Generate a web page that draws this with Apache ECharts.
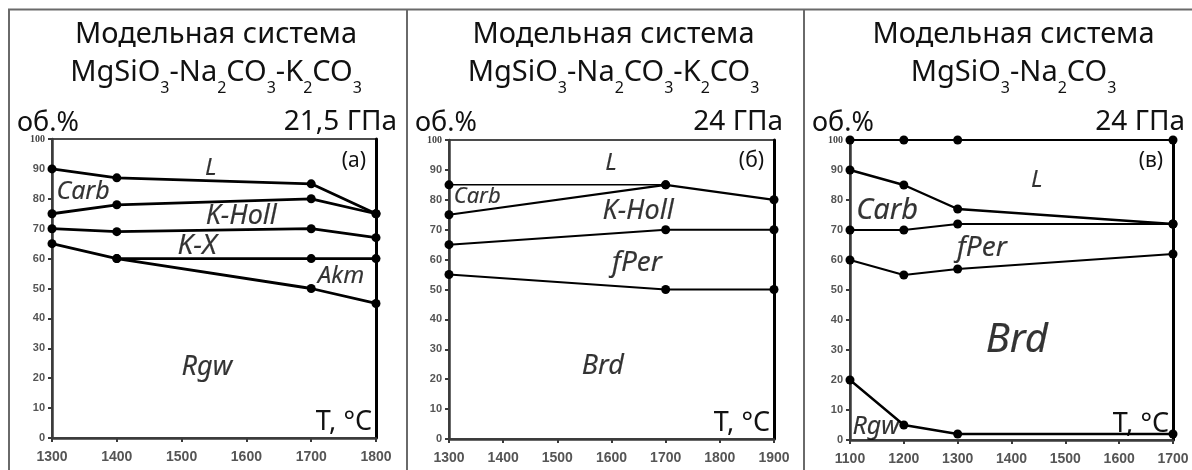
<!DOCTYPE html>
<html>
<head>
<meta charset="utf-8">
<script src="https://cdn.jsdelivr.net/npm/echarts@6/dist/echarts.min.js"></script>
<style>
html,body{margin:0;padding:0;background:#fff;}
#c{width:1192px;height:470px;}
</style>
</head>
<body>
<div id="c"></div>
<script>
// ---------- DATA ----------
// Panel (а): MgSiO3-Na2CO3-K2CO3, 21,5 GPa
const tempA = [1300, 1400, 1700, 1800];
const lineA_L_Carb   = [90, 87, 85, 75];
const lineA_Carb_KH  = [75, 78, 80, 75];
const lineA_KH_KX    = [70, 69, 70, 67];
const lineA_KX_Akm   = [65, 60, 60, 60];
const tempA_akm      = [1400, 1700, 1800];
const lineA_Akm_Rgw  = [60, 50, 45];

// Panel (б): MgSiO3-Na2CO3-K2CO3, 24 GPa
const tempB = [1300, 1700, 1900];
const tempB_flat     = [1300, 1700];
const lineB_L_Carb   = [85, 85];
const lineB_Carb_KH  = [75, 85, 80];
const lineB_KH_fPer  = [65, 70, 70];
const lineB_fPer_Brd = [55, 50, 50];

// Panel (в): MgSiO3-Na2CO3, 24 GPa
const tempC = [1100, 1200, 1300, 1700];
const lineC_top      = [100, 100, 100, 100];
const lineC_L_Carb   = [90, 85, 77, 72];
const lineC_Carb_fPer= [70, 70, 72, 72];
const lineC_fPer_Brd = [60, 55, 57, 62];
const lineC_Brd_Rgw  = [20, 5, 2, 2];

// axis ranges / ticks
const xRangeA = [1300, 1800];
const xRangeB = [1300, 1900];
const xRangeC = [1100, 1700];
const yRange = [0, 100];

// phase-field names with anchor (T, vol.%)
const fieldsA = [['L',1545,90.3],['Carb',1348,82.3],['K-Holl',1592,74],['K-X',1524,64.2],['Akm',1746,54.2],['Rgw',1539,23.7]];
const fieldsB = [['L',1599,92.3],['Carb',1352,81],['K-Holl',1649,76],['fPer',1647,58.9],['Brd',1584,24.4]];
const fieldsC = [['L',1447,86.7],['Carb',1169,76.3],['fPer',1345,64],['Brd',1410,33],['Rgw',1148,4.3]];

// ---------- LAYOUT / STYLE ----------
const FONT = '"Noto Sans", "DejaVu Sans", sans-serif';
const grids = [
  {left: 52,  top: 139, width: 324, height: 299},
  {left: 449, top: 140, width: 325, height: 299},
  {left: 850, top: 140, width: 323, height: 300}
];
const fieldSize = [
  {L:24,'Carb':25,'K-Holl':27,'K-X':28,'Akm':24,'Rgw':27},
  {L:24,'Carb':22,'K-Holl':27,'fPer':28,'Brd':27},
  {L:24,'Carb':29,'fPer':28,'Brd':40,'Rgw':25}
];
const pressRightOffset = [21, 9, 12];
const ylabLeftOffset = [35, 34, 38];

const zip = (xs, ys) => xs.map((x, i) => [x, ys[i]]);

function lineSeries(idx, xs, ys, w, sym) {
  return {
    type: 'line', xAxisIndex: idx, yAxisIndex: idx * 2,
    data: zip(xs, ys),
    symbol: 'circle', symbolSize: sym === undefined ? 9 : sym,
    showSymbol: true,
    lineStyle: {color: '#000', width: w},
    itemStyle: {color: '#000'},
    silent: true, animation: false, z: 5
  };
}
function fieldSeries(idx, arr) {
  return {
    type: 'scatter', xAxisIndex: idx, yAxisIndex: idx * 2,
    symbolSize: 0, silent: true, animation: false, z: 6,
    data: arr.map(f => ({name: f[0], value: [f[1], f[2]], label: {fontSize: fieldSize[idx][f[0]]}})),
    label: {
      show: true, position: 'inside',
      formatter: p => p.name,
      fontFamily: FONT, fontStyle: 'italic', color: '#000',
      textBorderColor: '#000', textBorderWidth: 0.15,
      fontSize: 24
    }
  };
}

const xAxes = [xRangeA, xRangeB, xRangeC].map((r, i) => ({
  type: 'value', gridIndex: i, min: r[0], max: r[1], interval: 100,
  axisLine: {show: true, onZero: false, lineStyle: {color: '#3a3a3a', width: 2.5}},
  axisTick: {show: true, length: 4, lineStyle: {color: '#3a3a3a', width: 2}},
  axisLabel: {fontSize: 14, fontWeight: 'bold', color: '#555', margin: 12,
    fontFamily: '"Liberation Sans", sans-serif', formatter: v => String(v)},
  splitLine: {show: false}
}));
const yAxes = [];
for (let i = 0; i < 3; i++) {
  yAxes.push({
    type: 'value', gridIndex: i, min: yRange[0], max: yRange[1], interval: 10,
    axisLine: {show: true, onZero: false, lineStyle: {color: '#3a3a3a', width: 2.5}},
    axisTick: {show: true, length: 4, lineStyle: {color: '#3a3a3a', width: 2}},
    axisLabel: {
      fontSize: 11, fontWeight: 'bold', color: '#555', margin: 7,
      fontFamily: '"Liberation Sans", sans-serif',
      formatter: v => v === 100 ? '{s|100}' : String(v),
      rich: {s: {fontSize: 10, fontFamily: '"Liberation Serif", serif', fontWeight: 'bold', color: '#444'}}
    },
    splitLine: {show: false}
  });
  yAxes.push({
    type: 'value', gridIndex: i, min: yRange[0], max: yRange[1], position: 'right',
    axisLine: {show: true, onZero: false, lineStyle: {color: '#000', width: 3}},
    axisTick: {show: false}, axisLabel: {show: false}, splitLine: {show: false}
  });
}

const series = [
  lineSeries(0, tempA, lineA_L_Carb, 2.8),
  lineSeries(0, tempA, lineA_Carb_KH, 2.8),
  lineSeries(0, tempA, lineA_KH_KX, 2.8),
  lineSeries(0, tempA, lineA_KX_Akm, 2.8),
  lineSeries(0, tempA_akm, lineA_Akm_Rgw, 2.8),
  lineSeries(1, tempB_flat, lineB_L_Carb, 1.5),
  lineSeries(1, tempB, lineB_Carb_KH, 2.2),
  lineSeries(1, tempB, lineB_KH_fPer, 2),
  lineSeries(1, tempB, lineB_fPer_Brd, 2),
  lineSeries(2, tempC, lineC_top, 2.2),
  lineSeries(2, tempC, lineC_L_Carb, 2.4),
  lineSeries(2, tempC, lineC_Carb_fPer, 1.8),
  lineSeries(2, tempC, lineC_fPer_Brd, 2.2),
  lineSeries(2, tempC, lineC_Brd_Rgw, 2.4),
  fieldSeries(0, fieldsA),
  fieldSeries(1, fieldsB),
  fieldSeries(2, fieldsC)
];

// ---------- TEXT ----------
const titleRich = {
  a: {fontSize: 29, fontFamily: FONT, fill: '#111', lineHeight: 38, verticalAlign: 'top'},
  s: {fontSize: 16, fontFamily: FONT, fill: '#111', lineHeight: 16, verticalAlign: 'bottom'}
};
const titleLines2 = [
  '{a|MgSiO}{s|3}{a|-Na}{s|2}{a|CO}{s|3}{a|-K}{s|2}{a|CO}{s|3}',
  '{a|MgSiO}{s|3}{a|-Na}{s|2}{a|CO}{s|3}{a|-K}{s|2}{a|CO}{s|3}',
  '{a|MgSiO}{s|3}{a|-Na}{s|2}{a|CO}{s|3}'
];
const pressures = ['21,5 ГПа', '24 ГПа', '24 ГПа'];
const panelTags = ['(а)', '(б)', '(в)'];

const graphic = [];
// outer frame lines
const frameStyle = {stroke: '#6a6a6a', lineWidth: 2};
graphic.push({type: 'line', shape: {x1: 8, y1: 9.5, x2: 1192, y2: 9.5}, style: frameStyle, silent: true});
[9, 407, 804].forEach(x => graphic.push({type: 'line', shape: {x1: x, y1: 9, x2: x, y2: 470}, style: frameStyle, silent: true}));

grids.forEach((g, i) => {
  const cx = g.left + g.width / 2 + 2;
  const right = g.left + g.width;
  graphic.push({type: 'text', x: cx, y: 35, silent: true,
    style: {text: 'Модельная система', font: '29px ' + FONT, fill: '#111', align: 'center', verticalAlign: 'middle'}});
  graphic.push({type: 'text', x: cx, y: 58, silent: true,
    style: {text: titleLines2[i], rich: titleRich, align: 'center', verticalAlign: 'top', font: '29px ' + FONT}});
  graphic.push({type: 'text', x: g.left - ylabLeftOffset[i], y: 123, silent: true,
    style: {text: 'об.%', font: '27px ' + FONT, fill: '#111', align: 'left', verticalAlign: 'middle'}});
  graphic.push({type: 'text', x: right + pressRightOffset[i], y: 122, silent: true,
    style: {text: pressures[i], font: '28px ' + FONT, fill: '#111', align: 'right', verticalAlign: 'middle'}});
  graphic.push({type: 'text', x: right - 10, y: 161, silent: true,
    style: {text: panelTags[i], font: '21px ' + FONT, fill: '#111', align: 'right', verticalAlign: 'middle'}});
  graphic.push({type: 'text', x: right - 4, y: g.top + g.height - 16, silent: true,
    style: {text: 'T, °C', font: '27px ' + FONT, fill: '#111', align: 'right', verticalAlign: 'middle'}});
});

const chart = echarts.init(document.getElementById('c'), null, {renderer: 'canvas'});
chart.setOption({
  animation: false,
  backgroundColor: '#fff',
  grid: grids.map(g => Object.assign({show: true, borderColor: '#111', borderWidth: 1.5, backgroundColor: 'transparent'}, g)),
  xAxis: xAxes,
  yAxis: yAxes,
  series: series,
  graphic: graphic
});
</script>
</body>
</html>
